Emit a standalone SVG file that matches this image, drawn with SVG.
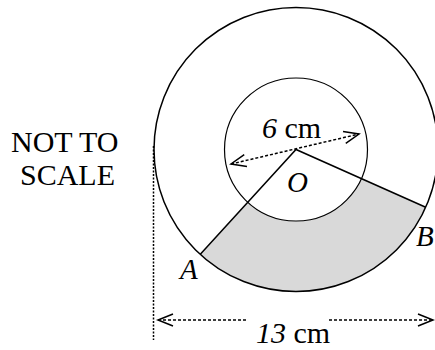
<svg xmlns="http://www.w3.org/2000/svg" width="435" height="350" viewBox="0 0 435 350">
<style>
.t{font-family:"Liberation Serif","Times New Roman",serif;fill:#000}
.i{font-style:italic}
.ln{fill:none;stroke:#000;stroke-width:1.5}
.dash{fill:none;stroke:#000;stroke-width:1.5;stroke-dasharray:3 2}
</style>
<defs>
<marker id="arr" markerUnits="userSpaceOnUse" orient="auto-start-reverse" markerWidth="20" markerHeight="20" refX="17" refY="10" viewBox="0 0 20 20">
<path d="M2,4 L17,10 L2,16" fill="none" stroke="#000" stroke-width="1.5" stroke-dasharray="none"/>
</marker>
</defs>
<rect width="435" height="350" fill="#fff"/>
<g id="shaded">
<path d="M200.3,254.3 A142,142 0 0 0 425.7,207.3 L361.3,178.6 A71.5,71.5 0 0 1 247.8,202.3 Z" fill="#d9d9d9" stroke="none"/>
</g>
<g id="outer-circle"><circle cx="296" cy="149.5" r="142" class="ln"/></g>
<g id="inner-circle"><circle cx="296" cy="149.5" r="71.5" fill="none" stroke="#000" stroke-width="1.2"/></g>
<g id="radii">
<path d="M200.3,254.3 L296,149.5 L425.7,207.3" class="ln"/>
</g>
<g id="connectors">
<line x1="231" y1="164" x2="359" y2="134" class="dash" marker-start="url(#arr)" marker-end="url(#arr)"/>
<line x1="153.5" y1="146" x2="153.5" y2="340" fill="none" stroke="#000" stroke-width="1.5" stroke-dasharray="2 1.5"/>
<line x1="158" y1="320" x2="247" y2="320" class="dash" marker-start="url(#arr)"/>
<line x1="329" y1="320" x2="433" y2="320" class="dash" marker-end="url(#arr)"/>
</g>
<g id="labels">
<text class="t" x="11" y="152" font-size="30">NOT TO</text>
<text class="t" x="20" y="185" font-size="30">SCALE</text>
<text class="t" x="262" y="138" font-size="30"><tspan class="i">6</tspan> cm</text>
<text class="t i" x="287" y="192" font-size="29">O</text>
<text class="t i" x="180" y="279" font-size="29">A</text>
<text class="t i" x="416" y="246" font-size="29">B</text>
<text class="t" x="256" y="343" font-size="30"><tspan class="i">13</tspan> cm</text>
</g>
</svg>
